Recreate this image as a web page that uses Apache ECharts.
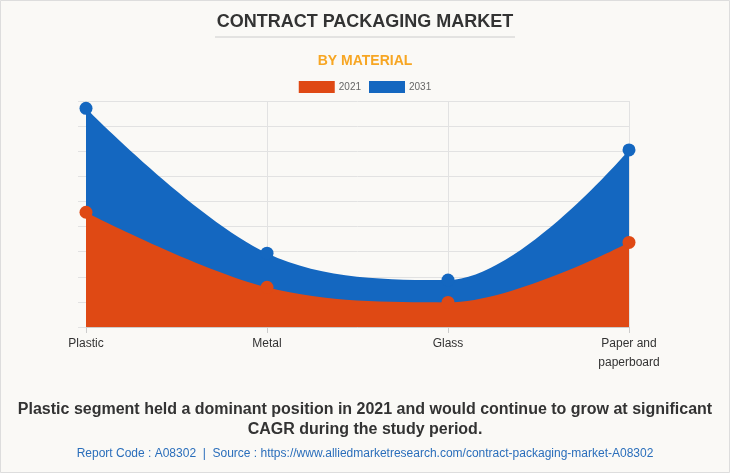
<!DOCTYPE html>
<html><head><meta charset="utf-8">
<script src="https://cdn.jsdelivr.net/npm/echarts@6/dist/echarts.min.js"></script>
<style>html,body{margin:0;padding:0;background:#faf9f6;}#c{width:730px;height:473px;}</style>
</head><body><div id="c"></div>
<script>
const categories = ['Plastic', 'Metal', 'Glass', 'Paper and\npaperboard'];
const values2021 = [4.57, 1.58, 0.98, 3.37];
const values2031 = [8.71, 2.94, 1.87, 7.05];
const seriesNames = ['2021', '2031'];
const colors = ['#DF4914', '#1467C0'];

const chart = echarts.init(document.getElementById('c'), null, {renderer: 'canvas'});
const font = '"Liberation Sans", Arial, sans-serif';
chart.setOption({
  backgroundColor: '#faf9f6',
  animation: false,
  textStyle: {fontFamily: font},
  title: [
    {text: 'CONTRACT PACKAGING MARKET', left: 'center', top: 8,
     textStyle: {fontFamily: font, fontSize: 18, fontWeight: 'bold', color: '#333'}},
    {text: 'BY MATERIAL', left: 'center', top: 49,
     textStyle: {fontFamily: font, fontSize: 14, fontWeight: 'bold', color: '#F7A623'}}
  ],
  legend: {
    data: seriesNames, top: 76, left: 'center', itemWidth: 36, itemHeight: 12, itemGap: 8,
    icon: 'rect',
    textStyle: {fontFamily: font, fontSize: 10, color: '#666', padding: [0, 0, 0, -1]}
  },
  grid: {left: 86, right: 101, top: 101, bottom: 146},
  xAxis: {
    type: 'category', data: categories, boundaryGap: false,
    axisLine: {lineStyle: {color: '#ccc'}},
    axisTick: {show: true, length: 6, lineStyle: {color: '#ccc'}},
    axisLabel: {fontFamily: font, fontSize: 12, color: '#333', margin: 7, lineHeight: 19},
    splitLine: {show: true, lineStyle: {color: '#e2e2e2'}}
  },
  yAxis: {
    type: 'value', min: 0, max: 9, interval: 1,
    axisLine: {show: false},
    axisTick: {show: true, length: 8, lineStyle: {color: '#e2e2e2'}},
    axisLabel: {show: false},
    splitLine: {lineStyle: {color: '#e2e2e2'}}
  },
  series: [
    {name: seriesNames[0], type: 'line', data: values2021, smooth: 0.35, z: 3,
     symbol: 'circle', symbolSize: 13, color: colors[0],
     lineStyle: {width: 0}, areaStyle: {color: colors[0], opacity: 1}},
    {name: seriesNames[1], type: 'line', data: values2031, smooth: 0.35, z: 2,
     symbol: 'circle', symbolSize: 13, color: colors[1],
     lineStyle: {width: 0}, areaStyle: {color: colors[1], opacity: 1}}
  ],
  graphic: [
    {type: 'line', shape: {x1: 215, y1: 37, x2: 515, y2: 37}, style: {stroke: '#ccc', lineWidth: 1}},
    {type: 'text', x: 365, y: 400,
     style: {text: 'Plastic segment held a dominant position in 2021 and would continue to grow at significant\nCAGR during the study period.',
       fontFamily: font, fontSize: 16, fontWeight: 'bold', fill: '#333', textAlign: 'center', align: 'center', lineHeight: 20}},
    {type: 'text', x: 365, y: 448,
     style: {text: 'Report Code : A08302  |  Source : https://www.alliedmarketresearch.com/contract-packaging-market-A08302',
       fontFamily: font, fontSize: 12, fill: '#2A6EBB', textAlign: 'center', align: 'center'}},
    {type: 'rect', shape: {x: 0.5, y: 0.5, width: 729, height: 472}, style: {fill: 'none', stroke: '#ddd', lineWidth: 1}, silent: true}
  ]
});
</script></body></html>
